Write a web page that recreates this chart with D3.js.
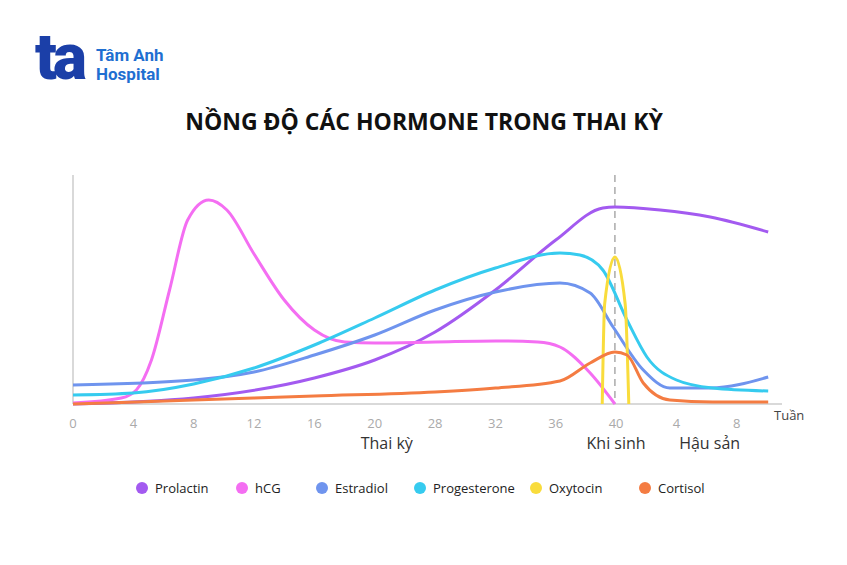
<!DOCTYPE html>
<html><head><meta charset="utf-8">
<script src="https://cdn.jsdelivr.net/npm/d3@7"></script>
<style>body{margin:0;background:#fff;font-family:"Open Sans",sans-serif;}</style>
</head><body><div id="chart"></div>
<script>
// x positions are tick slots (0 = week 0 ... 9 = week 40, 10/11 = postpartum 4/8)
var tickLabels = ["0","4","8","12","16","20","28","32","36","40","4","8"];
var phaseLabels = [{t: "Thai kỳ", x: 5.2}, {t: "Khi sinh", x: 9.0}, {t: "Hậu sản", x: 10.55}];
var names = ["Prolactin","hCG","Estradiol","Progesterone","Oxytocin","Cortisol"];
var colors = ["#a35af0","#f46ef2","#6f94ee","#36cbef","#f9dc3c","#f47c42"];

var prolactin = [[0,0],[2,6],[4,26],[5,44],[6,72],[7,114],[8,164],[8.78,196],[8.98,197],[9.73,194],[10.56,187],[11.52,172]];
var hcg = [[0,1],[0.8,6],[1.05,14],[1.3,44],[1.6,114],[1.9,184],[2.25,204],[2.55,194],[3,150],[3.5,104],[4,74],[4.5,62],[5,61],[6,62],[7,63],[7.7,62],[8.07,57],[8.57,31],[8.98,0]];
var estradiol = [[0,19],[2,24],[3,32],[4,49],[5,69],[6,94],[7,112],[8.07,121],[8.57,111],[8.95,77],[9.45,34],[9.89,16],[10.56,16],[11.52,27]];
var progesterone = [[0,9],[1,11],[2,20],[3,36],[4,59],[5,86],[6,114],[7,136],[8.07,151],[8.4,149],[8.78,134],[9.18,84],[9.51,47],[10,24],[10.6,16],[11.52,13]];
var oxytocin = [[8.77,0],[8.81,100],[8.98,147],[9.15,100],[9.21,0]];
var cortisol = [[0,0],[2,4],[4,8],[6,12],[7,16],[8.07,23],[8.57,41],[8.98,52],[9.18,49],[9.45,21],[9.89,4],[10.6,2],[11.52,2]];
var series = [prolactin, hcg, estradiol, progesterone, oxytocin, cortisol];

var W = 847, H = 565;
var svg = d3.select("#chart").append("svg").attr("width", W).attr("height", H);

// logo
svg.append("text").attr("x", 35).attr("y", 79).attr("fill", "#1b3fa8")
	.style("font-family", "Roboto").style("font-weight", 900).style("font-size", "64px")
	.style("letter-spacing", "-4px").text("ta");
svg.append("text").attr("x", 96).attr("y", 61).attr("fill", "#1f6fd1")
	.style("font-family", "Roboto").style("font-weight", 700).style("font-size", "17px").text("Tâm Anh");
svg.append("text").attr("x", 96).attr("y", 80).attr("fill", "#1f6fd1")
	.style("font-family", "Roboto").style("font-weight", 700).style("font-size", "17px").text("Hospital");

svg.append("text").attr("x", 424).attr("y", 130).attr("text-anchor", "middle")
	.style("font-weight", 700).style("font-size", "23px").attr("fill", "#111")
	.text("NỒNG ĐỘ CÁC HORMONE TRONG THAI KỲ");

var x = d3.scaleLinear().domain([0, 11.55]).range([73, 770]);
var y = d3.scaleLinear().domain([0, 229]).range([404, 175]);

// axes lines
svg.append("line").attr("x1", x(0)).attr("x2", x(0)).attr("y1", y(229)).attr("y2", y(0)).attr("stroke", "#ccc").attr("stroke-width", 1.5);
svg.append("line").attr("x1", x(0)).attr("x2", x(11.55) + 12).attr("y1", y(0)).attr("y2", y(0)).attr("stroke", "#ccc").attr("stroke-width", 1.5);
svg.append("line").attr("x1", x(8.98)).attr("x2", x(8.98)).attr("y1", y(229)).attr("y2", y(0))
	.attr("stroke", "#aaa").attr("stroke-width", 1.5).attr("stroke-dasharray", "7,5");

svg.selectAll(".tick").data(tickLabels).enter().append("text")
	.attr("x", function(d, i) { return x(i); }).attr("y", 428).attr("text-anchor", "middle")
	.attr("fill", "#aaa").style("font-size", "13px").text(function(d) { return d; });
svg.append("text").attr("x", 774).attr("y", 420).attr("fill", "#444").style("font-size", "13px").text("Tuần");
svg.selectAll(".phase").data(phaseLabels).enter().append("text")
	.attr("x", function(d) { return x(d.x); }).attr("y", 449).attr("text-anchor", "middle")
	.attr("fill", "#333").style("font-size", "16px").text(function(d) { return d.t; });

var line = d3.line().x(function(d) { return x(d[0]); }).y(function(d) { return y(d[1]); }).curve(d3.curveMonotoneX);
svg.selectAll(".series").data(series).enter().append("path")
	.attr("d", line).attr("fill", "none").attr("stroke-width", 3)
	.attr("stroke", function(d, i) { return colors[i]; });

// legend
var legendX = [142, 242, 322, 420, 536, 645];
var lg = svg.selectAll(".lg").data(names).enter().append("g")
	.attr("transform", function(d, i) { return "translate(" + legendX[i] + ",488)"; });
lg.append("circle").attr("r", 6).attr("fill", function(d, i) { return colors[i]; });
lg.append("text").attr("x", 13).attr("y", 5).style("font-size", "13px").attr("fill", "#222").text(function(d) { return d; });
</script></body></html>
